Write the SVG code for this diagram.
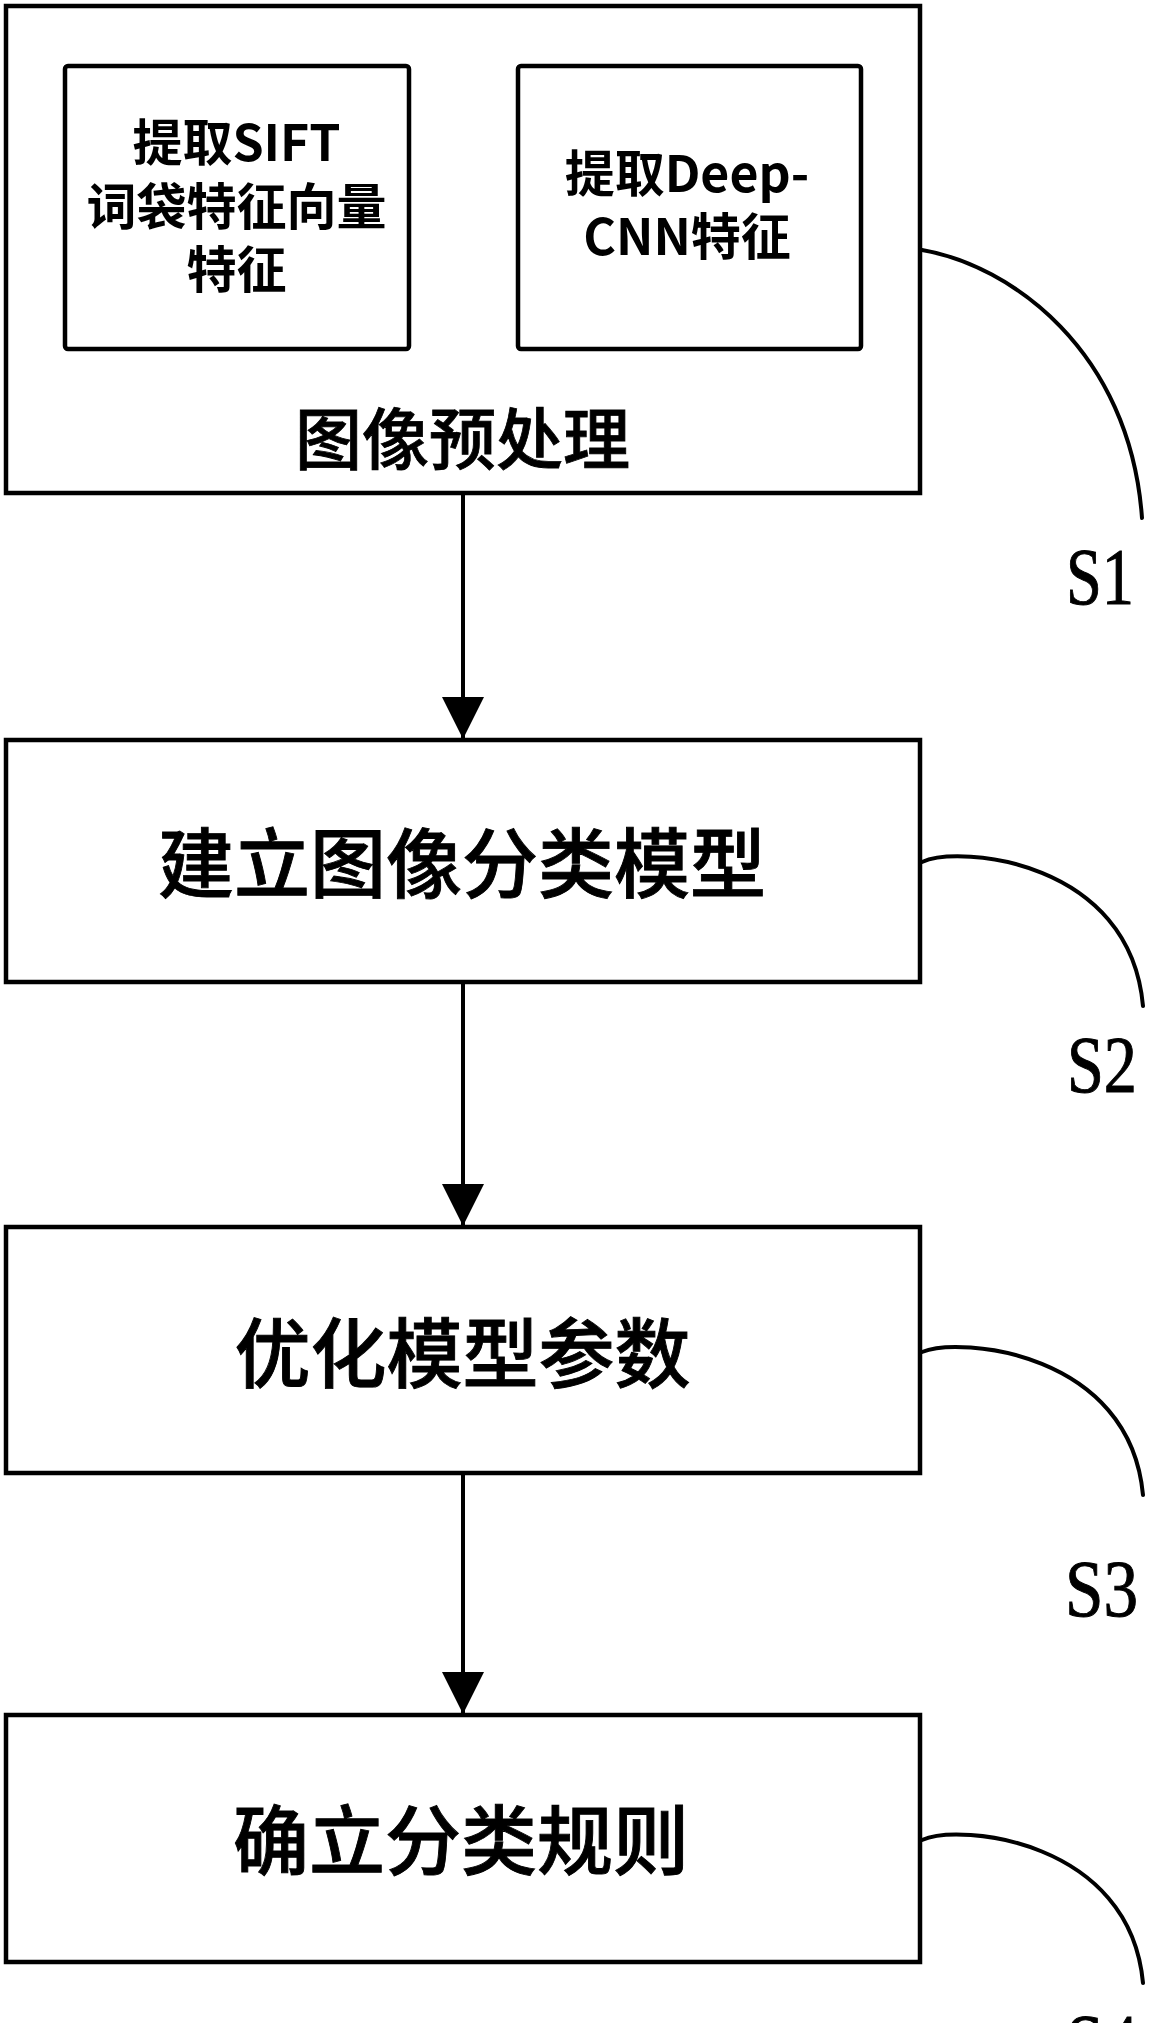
<svg xmlns="http://www.w3.org/2000/svg" width="1149" height="2023" viewBox="0 0 1149 2023">
<style>
.box{fill:none;stroke:#000;stroke-width:4.5}
.inner{fill:none;stroke:#000;stroke-width:4.5}
.line{fill:none;stroke:#000;stroke-width:4}
.lead{fill:none;stroke:#000;stroke-width:4;stroke-linecap:round}
.t-small{font-family:"Noto Sans CJK SC","Noto Sans",sans-serif;font-weight:700;font-size:50px;fill:#000;text-anchor:middle}
.t-main{font-family:"Noto Sans CJK SC","Noto Sans",sans-serif;font-weight:500;font-size:76px;fill:#000;stroke:#000;stroke-width:0.9;text-anchor:middle}
.t-sub{font-family:"Noto Sans CJK SC","Noto Sans",sans-serif;font-weight:500;font-size:67px;fill:#000;stroke:#000;stroke-width:0.8;text-anchor:middle}
.t-step{font-family:"Liberation Serif","Times New Roman",serif;font-size:80px;fill:#000;stroke:#000;stroke-width:1}
</style>
<defs>
<marker id="arrow" markerUnits="userSpaceOnUse" markerWidth="42" markerHeight="42" refX="42" refY="21" orient="auto" viewBox="0 0 42 42">
<path d="M0,0 L42,21 L0,42 Z" fill="#000"/>
</marker>
</defs>
<rect width="1149" height="2023" fill="#fff"/>

<g id="node-s1">
<rect class="box" x="6" y="6" width="914" height="487"/>
<text class="t-sub" x="462.5" y="464">图像预处理</text>
<g id="node-sift">
<rect class="inner" x="65" y="66" width="344" height="283" rx="3"/>
<text class="t-small" x="236.5" y="161">提取SIFT</text>
<text class="t-small" x="236.5" y="225">词袋特征向量</text>
<text class="t-small" x="236.5" y="288">特征</text>
</g>
<g id="node-cnn">
<rect class="inner" x="518" y="66" width="343" height="283" rx="3"/>
<text class="t-small" x="687" y="192">提取Deep-</text>
<text class="t-small" x="687" y="255">CNN特征</text>
</g>
</g>

<g id="node-s2">
<rect class="box" x="6" y="740" width="914" height="242"/>
<text class="t-main" x="462" y="892">建立图像分类模型</text>
</g>

<g id="node-s3">
<rect class="box" x="6" y="1227" width="914" height="246"/>
<text class="t-main" x="462.5" y="1382">优化模型参数</text>
</g>

<g id="node-s4">
<rect class="box" x="6" y="1715" width="914" height="247"/>
<text class="t-main" x="461" y="1869">确立分类规则</text>
</g>

<g id="connectors">
<line class="line" x1="463" y1="493" x2="463" y2="739" marker-end="url(#arrow)"/>
<line class="line" x1="463" y1="982" x2="463" y2="1226" marker-end="url(#arrow)"/>
<line class="line" x1="463" y1="1473" x2="463" y2="1714" marker-end="url(#arrow)"/>
<path class="lead" d="M922,250 C1010,265 1130,350 1142,518"/>
<path class="lead" d="M922,862 C960,845 1130,860 1143,1006"/>
<path class="lead" d="M922,1352 C960,1336 1130,1352 1143,1495"/>
<path class="lead" d="M922,1840 C960,1823 1130,1840 1143,1983"/>
</g>

<g id="labels">
<text class="t-step" x="1066" y="604" textLength="68" lengthAdjust="spacingAndGlyphs">S1</text>
<text class="t-step" x="1067" y="1092" textLength="70" lengthAdjust="spacingAndGlyphs">S2</text>
<text class="t-step" x="1065" y="1616" textLength="73" lengthAdjust="spacingAndGlyphs">S3</text>
<text class="t-step" x="1066" y="2070" textLength="72" lengthAdjust="spacingAndGlyphs">S4</text>
</g>
</svg>
